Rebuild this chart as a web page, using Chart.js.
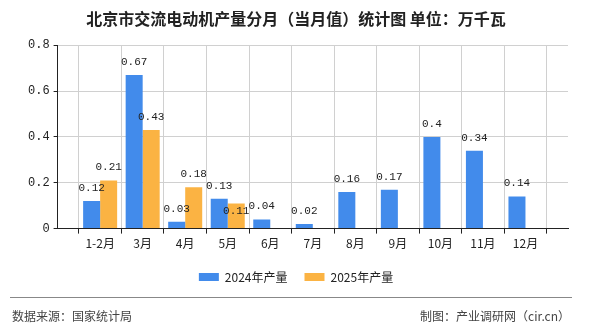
<!DOCTYPE html>
<html>
<head>
<meta charset="utf-8">
<script src="https://cdn.jsdelivr.net/npm/chart.js@4"></script>
<style>
  html, body { margin: 0; padding: 0; background: #fff; }
  #wrap { width: 590px; height: 330px; position: relative; }
</style>
</head>
<body>
<div id="wrap"><canvas id="chart" width="590" height="330"></canvas></div>
<script>
const categories = ['1-2月', '3月', '4月', '5月', '6月', '7月', '8月', '9月', '10月', '11月', '12月'];
const values2024 = [0.12, 0.67, 0.03, 0.13, 0.04, 0.02, 0.16, 0.17, 0.4, 0.34, 0.14];
const values2025 = [0.21, 0.43, 0.18, 0.11, null, null, null, null, null, null, null];
const yTicks = [0, 0.2, 0.4, 0.6, 0.8];

const titleText = '北京市交流电动机产量分月（当月值）统计图 单位：万千瓦';
const sourceText = '数据来源：国家统计局';
const creditText = '制图：产业调研网（cir.cn）';

const FONT = '"Noto Sans CJK SC", "DejaVu Sans", sans-serif';
const MONO = '"Liberation Mono", monospace';
Chart.defaults.font.family = FONT;
Chart.defaults.color = '#222';

// empty slot at each end so labels sit on gridlines like the original
const labels = [''].concat(categories, ['']);
const pad = arr => [null].concat(arr, [null]);

// value labels above bars, pushed inside the bar if they hit another label
const valueLabels = {
    id: 'valueLabels',
    afterDatasetsDraw(chart) {
        const ctx = chart.ctx;
        const placed = [];
        ctx.save();
        ctx.font = '11px ' + MONO;
        ctx.fillStyle = '#222';
        ctx.textAlign = 'center';
        ctx.textBaseline = 'middle';
        chart.data.datasets.forEach((ds, di) => {
            chart.getDatasetMeta(di).data.forEach((bar, i) => {
                const v = ds.data[i];
                if (v === null || v === undefined) return;
                const text = String(v);
                const w = ctx.measureText(text).width - 3;
                let y = bar.y - 13;
                const box = { l: bar.x - w / 2, r: bar.x + w / 2, t: y - 5, b: y + 5 };
                const hit = placed.some(p => box.l < p.r && box.r > p.l && box.t < p.b && box.b > p.t);
                if (hit) {
                    y = bar.y + 8;
                    box.t = y - 5; box.b = y + 5;
                }
                placed.push(box);
                ctx.fillText(text, bar.x, y);
            });
        });
        ctx.restore();
    }
};

const footer = {
    id: 'footer',
    afterDraw(chart) {
        const ctx = chart.ctx;
        ctx.save();
        ctx.strokeStyle = '#888';
        ctx.lineWidth = 1;
        ctx.beginPath();
        ctx.moveTo(10, 297.5);
        ctx.lineTo(572, 297.5);
        ctx.stroke();
        ctx.font = '12px ' + FONT;
        ctx.fillStyle = '#444';
        ctx.textBaseline = 'middle';
        ctx.textAlign = 'left';
        ctx.fillText(sourceText, 12, 316);
        ctx.textAlign = 'right';
        ctx.fillText(creditText, 570, 316);
        ctx.restore();
    }
};

new Chart(document.getElementById('chart'), {
    type: 'bar',
    data: {
        labels: labels,
        datasets: [
            { label: '2024年产量', data: pad(values2024), backgroundColor: '#428BEB' },
            { label: '2025年产量', data: pad(values2025), backgroundColor: '#FBB343' }
        ]
    },
    options: {
        responsive: false,
        animation: false,
        layout: { padding: { top: 9, right: 22, left: 24, bottom: 37 } },
        datasets: { bar: { categoryPercentage: 0.8, barPercentage: 1 } },
        plugins: {
            title: {
                display: true,
                text: titleText,
                color: '#222',
                font: { size: 16, weight: 'bold', family: FONT },
                padding: { top: 0, bottom: 17 }
            },
            legend: {
                position: 'bottom',
                labels: { boxWidth: 20, boxHeight: 8, font: { size: 12 }, padding: 17, color: '#222' }
            },
            tooltip: { enabled: false }
        },
        scales: {
            x: {
                offset: false,
                grid: { color: '#d0d0d0', tickColor: '#222', tickLength: 5 },
                border: { color: '#222', width: 1 },
                ticks: { font: { size: 12 }, color: '#222', padding: 3, maxRotation: 0, autoSkip: false }
            },
            y: {
                min: 0,
                max: 0.8,
                afterBuildTicks(axis) { axis.ticks = yTicks.map(v => ({ value: v })); },
                grid: { color: '#d0d0d0', tickColor: '#222', tickLength: 4 },
                border: { color: '#222', width: 1 },
                ticks: { font: { size: 12, family: MONO }, color: '#222', padding: 4 }
            }
        }
    },
    plugins: [valueLabels, footer]
});
</script>
</body>
</html>
